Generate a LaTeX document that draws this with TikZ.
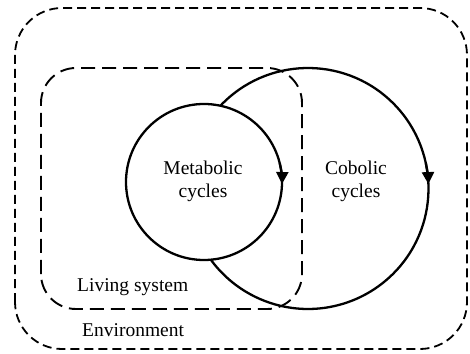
\documentclass[tikz,border=0pt]{standalone}
\usepackage{fontspec}
\setmainfont{Liberation Serif}
\usetikzlibrary{arrows.meta}

\begin{document}
\begin{tikzpicture}[x=1pt, y=1pt,
    envline/.style={line width=1.8pt, dash pattern=on 9pt off 5pt},
    sysline/.style={line width=1.9pt, dash pattern=on 14pt off 7pt},
    cyc/.style={line width=2.3pt},
    tip/.style={-{Triangle[width=12pt,length=12pt]}},
    lbl/.style={font=\fontsize{19.5}{23}\selectfont, align=center, inner sep=0pt}]
    \useasboundingbox (0,0) rectangle (470,353);
    \coordinate (mc) at (204,171);
    \coordinate (cc) at (308,164.5);
    % environment and living system
    \draw[envline, rounded corners=47pt] (15,4) rectangle (467,345);
    \draw[sysline, rounded corners=35pt] (41,44) rectangle (302,285);
    % the two cycles
    \draw[cyc] (mc) circle (78);
    \draw[cyc] (cc) ++(136.6:120.5) arc[start angle=136.6, end angle=-143.8, radius=120.5];
    \draw[cyc, tip] (mc) ++(14:78) arc[start angle=14, end angle=-1.5, radius=78];
    \draw[cyc, tip] (cc) ++(12:120.5) arc[start angle=12, end angle=2.1, radius=120.5];
    \node[lbl] (metab) at (203,171.5) {Metabolic\\cycles};
    \node[lbl] (cobol) at (356,171.5) {Cobolic\\cycles};
    \node[lbl, anchor=west] (living) at (77,66) {Living system};
    \node[lbl, anchor=west] (env) at (82,23) {Environment};
\end{tikzpicture}
\end{document}
